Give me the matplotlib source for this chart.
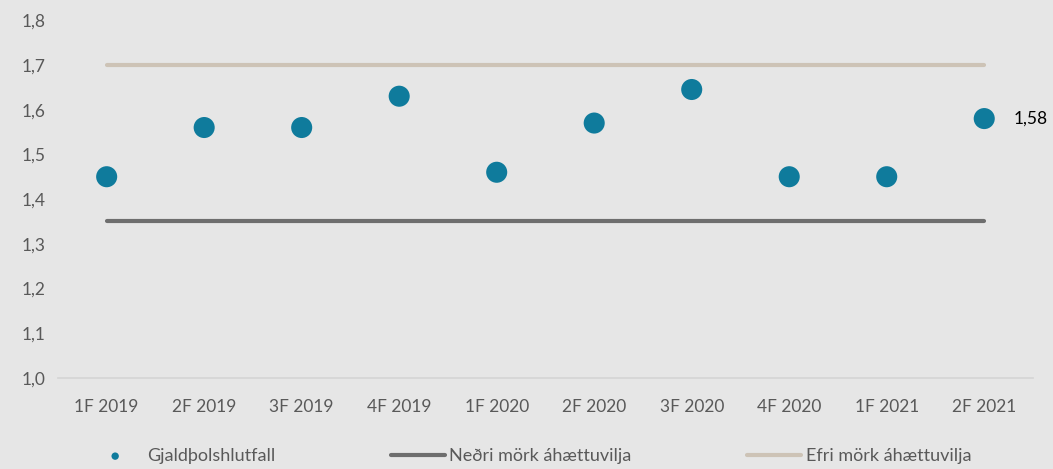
import matplotlib.pyplot as plt
from matplotlib.ticker import FuncFormatter

# Gögn
fjordungar = ["1F 2019", "2F 2019", "3F 2019", "4F 2019", "1F 2020",
              "2F 2020", "3F 2020", "4F 2020", "1F 2021", "2F 2021"]
gjaldthol = [1.45, 1.56, 1.56, 1.63, 1.46, 1.57, 1.645, 1.45, 1.45, 1.58]
nedri_mork = [1.35] * len(fjordungar)
efri_mork = [1.70] * len(fjordungar)

bg = "#E6E6E6"
plt.rcParams['font.family'] = ['Lato', 'DejaVu Sans']

fig = plt.figure(figsize=(10.53, 4.69), dpi=100, facecolor=bg)
ax = fig.add_axes([0.055, 0.194, 0.926, 0.763], facecolor=bg)

x = list(range(len(fjordungar)))
ax.plot(x, nedri_mork, color="#6E6E6E", lw=3, solid_capstyle='round',
        label="Neðri mörk áhættuvilja", zorder=2)
ax.plot(x, efri_mork, color="#CDC3B6", lw=3, solid_capstyle='round',
        label="Efri mörk áhættuvilja", zorder=2)
ax.scatter(x, gjaldthol, s=230, color="#0F7B9C", edgecolors='none',
           label="Gjaldþolshlutfall", zorder=3)

ax.annotate(f"{gjaldthol[-1]:.2f}".replace(".", ","), (x[-1], gjaldthol[-1]),
            xytext=(21, 0), textcoords='offset points', va='center', ha='left',
            fontsize=12.5, color="black")

ax.set_xlim(-0.5, len(fjordungar) - 0.5)
ax.set_ylim(1.0, 1.8)
ax.set_yticks([1.0 + 0.1 * i for i in range(9)])
ax.yaxis.set_major_formatter(FuncFormatter(lambda v, p: f"{v:.1f}".replace(".", ",")))
ax.set_xticks(x)
ax.set_xticklabels(fjordungar)
ax.tick_params(length=0, labelsize=12.5, colors="#595959")
ax.tick_params(axis='x', pad=15)
ax.tick_params(axis='y', pad=9)
for s in ["top", "right", "left"]:
    ax.spines[s].set_visible(False)
ax.spines["bottom"].set_color("#D4D4D4")
ax.spines["bottom"].set_linewidth(1.2)

h, l = ax.get_legend_handles_labels()
order = [2, 0, 1]
leg = fig.legend([h[i] for i in order], [l[i] for i in order], loc='center',
                 bbox_to_anchor=(0.503, 0.028), ncol=3, frameon=False,
                 fontsize=13, labelcolor="#595959", handlelength=3,
                 handletextpad=0.25, columnspacing=6.4, markerscale=0.35)

fig.savefig("out.png", dpi=100, facecolor=bg)
